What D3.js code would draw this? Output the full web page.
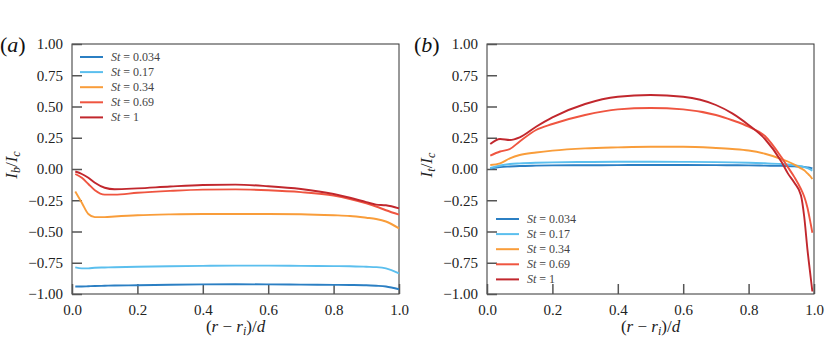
<!DOCTYPE html>
<html>
<head>
<meta charset="utf-8">
<script src="https://cdn.jsdelivr.net/npm/d3@7"></script>
<style>
  body { margin: 0; background: #fff; }
</style>
</head>
<body>
<svg id="chart" width="830" height="343"></svg>
<script>
// Stokes numbers and colours
var stLabels = ["0.034", "0.17", "0.34", "0.69", "1"];
var colors = ["#2b7fc3", "#5bbfee", "#f99d3a", "#ef5540", "#c1272d"];

// panel (a): I_b / I_c
var xA = [0.01, 0.03, 0.05, 0.07, 0.1, 0.13, 0.2, 0.3, 0.4, 0.5, 0.6, 0.7, 0.8, 0.85, 0.9, 0.93, 0.96, 1.0];
var ibSt0034 = [-0.94, -0.94, -0.938, -0.936, -0.934, -0.932, -0.93, -0.926, -0.923, -0.922, -0.923, -0.925, -0.927, -0.928, -0.93, -0.934, -0.94, -0.962];
var ibSt017  = [-0.787, -0.795, -0.795, -0.79, -0.788, -0.786, -0.782, -0.778, -0.775, -0.773, -0.773, -0.775, -0.777, -0.778, -0.782, -0.785, -0.795, -0.835];
var ibSt034  = [-0.18, -0.27, -0.36, -0.385, -0.385, -0.38, -0.37, -0.363, -0.36, -0.36, -0.36, -0.362, -0.37, -0.376, -0.39, -0.4, -0.42, -0.475];
var ibSt069  = [-0.04, -0.07, -0.12, -0.17, -0.205, -0.205, -0.19, -0.175, -0.165, -0.163, -0.17, -0.185, -0.213, -0.24, -0.275, -0.3, -0.33, -0.365];
var ibSt1    = [-0.02, -0.04, -0.07, -0.11, -0.15, -0.162, -0.155, -0.14, -0.128, -0.125, -0.138, -0.16, -0.2, -0.23, -0.265, -0.285, -0.29, -0.315];

// panel (b): I_t / I_c
var xB = [0.01, 0.04, 0.07, 0.1, 0.15, 0.2, 0.3, 0.4, 0.5, 0.6, 0.7, 0.75, 0.8, 0.85, 0.9, 0.92, 0.94, 0.96, 0.97, 0.98, 0.99, 0.995];
var itSt0034 = [0.004, 0.015, 0.02, 0.024, 0.027, 0.029, 0.03, 0.031, 0.032, 0.032, 0.031, 0.03, 0.029, 0.027, 0.025, 0.023, 0.021, 0.019, 0.017, 0.013, 0.008, 0.004];
var itSt017  = [0.008, 0.028, 0.04, 0.045, 0.05, 0.053, 0.056, 0.058, 0.058, 0.057, 0.055, 0.053, 0.05, 0.046, 0.04, 0.036, 0.03, 0.022, 0.015, 0.007, -0.005, -0.013];
var itSt034  = [0.032, 0.045, 0.085, 0.112, 0.132, 0.147, 0.165, 0.173, 0.178, 0.178, 0.168, 0.16, 0.148, 0.122, 0.08, 0.06, 0.035, 0.005, -0.01, -0.035, -0.062, -0.08];
var itSt069  = [0.107, 0.14, 0.16, 0.22, 0.312, 0.36, 0.432, 0.477, 0.488, 0.477, 0.432, 0.39, 0.339, 0.264, 0.095, 0.015, -0.065, -0.16, -0.22, -0.31, -0.44, -0.51];
var itSt1    = [0.2, 0.24, 0.232, 0.253, 0.338, 0.413, 0.52, 0.578, 0.592, 0.578, 0.512, 0.445, 0.352, 0.24, 0.06, -0.035, -0.11, -0.21, -0.38, -0.645, -0.87, -0.98];

var xTicks = [0, 0.2, 0.4, 0.6, 0.8, 1.0];
var yTicks = [-1, -0.75, -0.5, -0.25, 0, 0.25, 0.5, 0.75, 1];

var serif = "'Liberation Serif', serif";

var svg = d3.select("#chart").style("font-family", serif);

var panels = [
  { left: 72, letterX: 0, letter: "a", sub: "b", xs: xA, series: [ibSt0034, ibSt017, ibSt034, ibSt069, ibSt1], legend: [80, 57] },
  { left: 487, letterX: 414, letter: "b", sub: "t", xs: xB, series: [itSt0034, itSt017, itSt034, itSt069, itSt1], legend: [496, 219] }
];

var plotTop = 44, height = 250, width = 327;

panels.forEach(function(p) {
  var x = d3.scaleLinear().domain([0, 1]).range([0, width]);
  var y = d3.scaleLinear().domain([-1, 1]).range([height, 0]);

  var g = svg.append("g").attr("transform", "translate(" + p.left + "," + plotTop + ")");

  // frame
  g.append("rect")
   .attr("width", width).attr("height", height)
   .attr("fill", "none").attr("stroke", "#333").attr("stroke-width", 1);

  // x axis (ticks inside)
  var xa = g.append("g")
   .attr("transform", "translate(0," + height + ")")
   .call(d3.axisBottom(x).tickValues(xTicks).tickSize(-10).tickPadding(8).tickFormat(d3.format(".1f")));
  xa.attr("font-family", null);
  xa.select(".domain").remove();
  xa.selectAll("line").attr("stroke", "#555").attr("stroke-width", 1.5);
  xa.selectAll("text").attr("font-size", "15px").attr("fill", "#222").attr("y", 10).attr("dy", "0.71em");

  // y axis (ticks inside)
  var ya = g.append("g")
   .call(d3.axisLeft(y).tickValues(yTicks).tickSize(-10).tickPadding(9).tickFormat(function(d) {
     return d3.format(".2f")(d).replace("-", "\u2212");
   }));
  ya.attr("font-family", null);
  ya.select(".domain").remove();
  ya.selectAll("line").attr("stroke", "#555").attr("stroke-width", 1.5);
  ya.selectAll("text").attr("font-size", "15px").attr("fill", "#222").attr("x", -9);

  // curves
  var line = d3.line()
   .x(function(d) { return x(d[0]); })
   .y(function(d) { return y(d[1]); })
   .curve(d3.curveMonotoneX);

  p.series.forEach(function(vals, i) {
    g.append("path")
     .datum(p.xs.map(function(xv, j) { return [xv, vals[j]]; }))
     .attr("fill", "none")
     .attr("stroke", colors[i])
     .attr("stroke-width", 1.9)
     .attr("d", line);
  });

  // legend
  var lg = svg.append("g").attr("transform", "translate(" + p.legend[0] + "," + p.legend[1] + ")");
  stLabels.forEach(function(s, i) {
    var row = lg.append("g").attr("transform", "translate(0," + (i * 15.1) + ")");
    row.append("line").attr("x1", 0).attr("x2", 23).attr("y1", 0).attr("y2", 0)
       .attr("stroke", colors[i]).attr("stroke-width", 2);
    var t = row.append("text").attr("x", 31).attr("y", 4).attr("font-size", "12px").attr("fill", "#444");
    t.append("tspan").attr("font-style", "italic").text("St");
    t.append("tspan").text(" = " + s);
  });

  // y label
  var yl = svg.append("text")
   .attr("transform", "translate(" + (p.left - 55) + "," + (plotTop + height / 2 - 4) + ") rotate(-90)")
   .attr("text-anchor", "middle")
   .attr("font-size", "17px").attr("fill", "#222");
  yl.append("tspan").attr("font-style", "italic").text("I");
  yl.append("tspan").attr("font-style", "italic").attr("font-size", "12px").attr("dy", "3").text(p.sub);
  yl.append("tspan").attr("dy", "-3").text("/");
  yl.append("tspan").attr("font-style", "italic").text("I");
  yl.append("tspan").attr("font-style", "italic").attr("font-size", "12px").attr("dy", "3").text("c");

  // x label
  var xl = svg.append("text")
   .attr("x", p.left + width / 2).attr("y", 332)
   .attr("text-anchor", "middle")
   .attr("font-size", "17px").attr("fill", "#222");
  xl.append("tspan").text("(");
  xl.append("tspan").attr("font-style", "italic").text("r");
  xl.append("tspan").text(" \u2212 ");
  xl.append("tspan").attr("font-style", "italic").text("r");
  xl.append("tspan").attr("font-style", "italic").attr("font-size", "12px").attr("dy", "3").text("i");
  xl.append("tspan").attr("dy", "-3").text(")/");
  xl.append("tspan").attr("font-style", "italic").text("d");

  // panel letter
  var pl = svg.append("text")
   .attr("x", p.letterX).attr("y", 52)
   .attr("font-size", "22px").attr("fill", "#111");
  pl.append("tspan").text("(");
  pl.append("tspan").attr("font-style", "italic").text(p.letter);
  pl.append("tspan").text(")");
});
</script>
</body>
</html>
